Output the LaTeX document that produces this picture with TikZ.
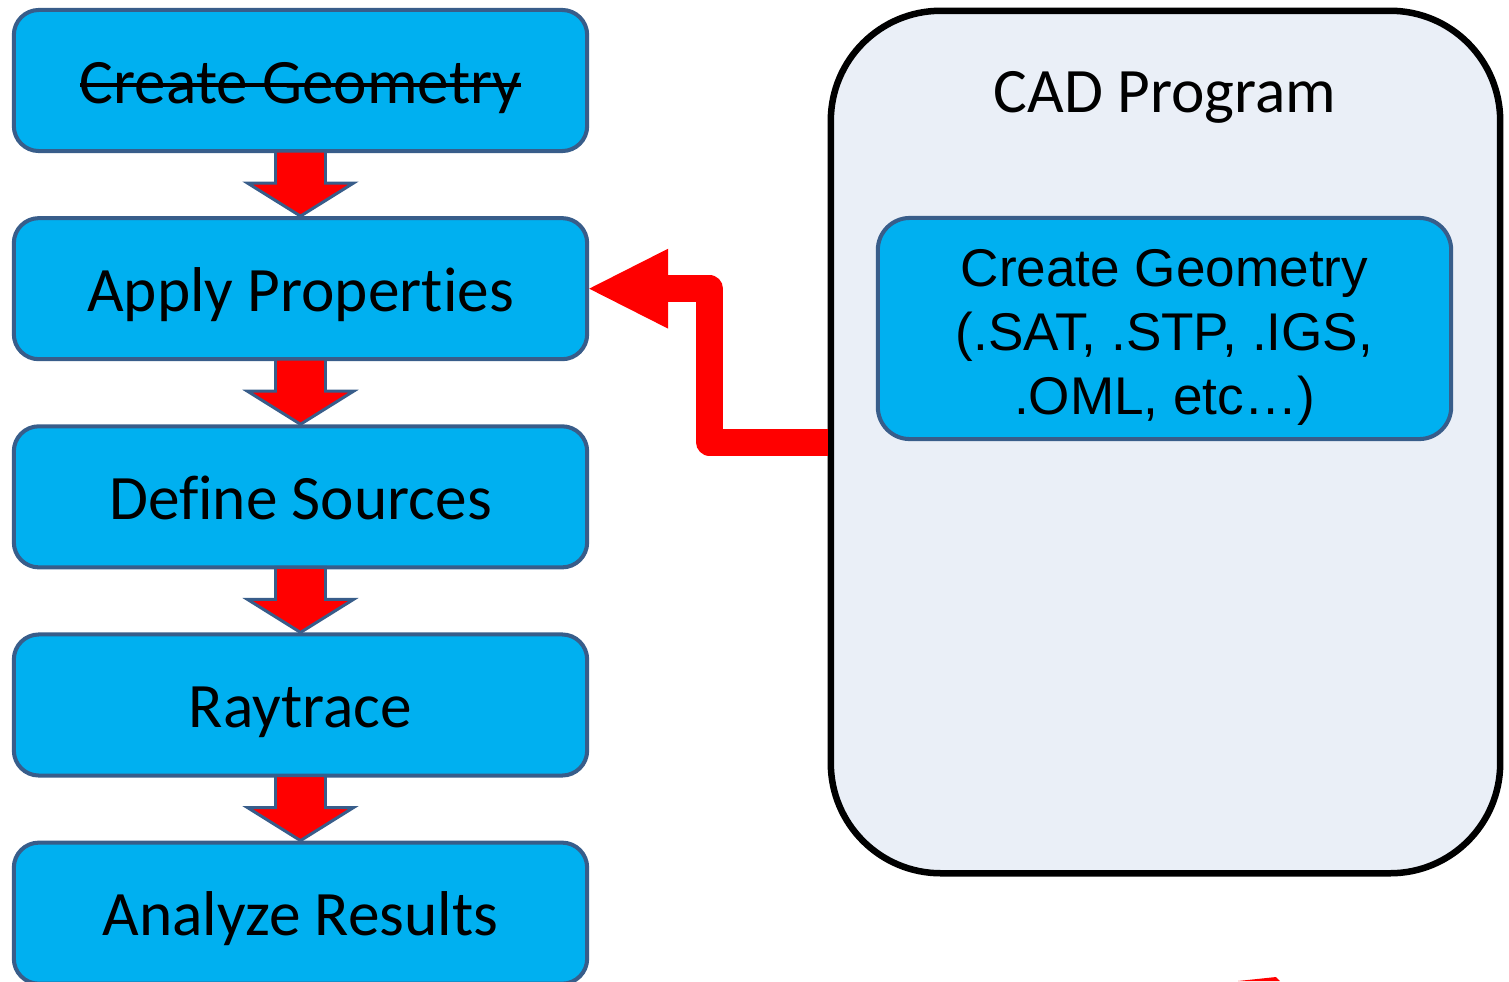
\documentclass[tikz,border=0pt]{standalone}
\usepackage{fontspec}
\setmainfont{Carlito}[RawFeature=-liga]
\newfontfamily\arialfont{Liberation Sans}
\usetikzlibrary{arrows.meta, positioning, calc}

\definecolor{boxblue}{HTML}{00B0F0}
\definecolor{boxline}{HTML}{385D8A}
\definecolor{cadfill}{RGB}{234,239,247}

% struck-out text
\newcommand{\strikeout}[1]{\setbox0\hbox{#1}\rlap{\rule[0.26em]{\wd0}{0.9pt}}\box0}

\tikzset{
  stage/.style={draw=boxline, line width=1.15pt, fill=boxblue, rounded corners=0.25cm,
    minimum width=5.73cm, minimum height=1.41cm, inner sep=0pt,
    text height=0.57cm, text depth=0.12cm, font=\fontsize{18}{22}\selectfont},
  cadbox/.style={draw=black, line width=0.065cm, fill=cadfill, rounded corners=1.1cm,
    minimum width=6.69cm, minimum height=8.62cm},
  geomtext/.style={align=center, font=\arialfont\fontsize{15.1}{18.2}\selectfont},
  downarrow/.style={fill=red, draw=boxline, line width=0.85pt},
  feedback/.style={draw=red, line width=0.27cm, line join=round,
    -{Triangle[length=0.79cm, width=0.8cm, line width=0pt]}},
}

% block arrow from one stage to the next
\newcommand{\flowarrow}[2]{%
  \path (#1.south) coordinate (s) (#2.north) coordinate (t);
  \filldraw[downarrow] ($(s)+(-25,-2)$) -- ($(s)+(-25,30)$) -- ($(s)+(-53,30)$)
    -- (t) -- ($(s)+(53,30)$) -- ($(s)+(25,30)$) -- ($(s)+(25,-2)$) -- cycle;}

\begin{document}
\begin{tikzpicture}[x=0.01cm, y=-0.01cm]
  \useasboundingbox (0,0) rectangle (1509,981);
  % Workflow stages
  \node[stage] (geom) at (300.5,80.5) {\strikeout{Create Geometry}};
  \node[stage, below=0.63cm of geom] (props) {Apply Properties};
  \node[stage, below=0.63cm of props] (sources) {Define Sources};
  \node[stage, below=0.63cm of sources] (trace) {Raytrace};
  \node[stage, below=0.63cm of trace] (results) {Analyze Results};
  \foreach \a/\b in {geom/props, props/sources, sources/trace, trace/results}
    {\flowarrow{\a}{\b}}
  % CAD program
  \node[cadbox] (cad) at (1165.5,442) {};
  \node[anchor=base, font=\fontsize{18}{22}\selectfont] (cadtitle) at (1165,112) {CAD Program};
  \node[stage, minimum height=2.21cm, rounded corners=0.32cm] (cadgeom) at (1164.5,328.5) {};
  \node[geomtext] (cadgeomtext) at (1164.5,337) {Create Geometry\\(.SAT, .STP, .IGS,\\.OML, etc…)};
  % Geometry import
  \coordinate (bend) at (709.5,442);
  \draw[feedback] (cad.west) -- (bend) |- (props.east);
  \fill[red] (1238,981) -- (1276,977) -- (1280,981) -- cycle;
\end{tikzpicture}
\end{document}
